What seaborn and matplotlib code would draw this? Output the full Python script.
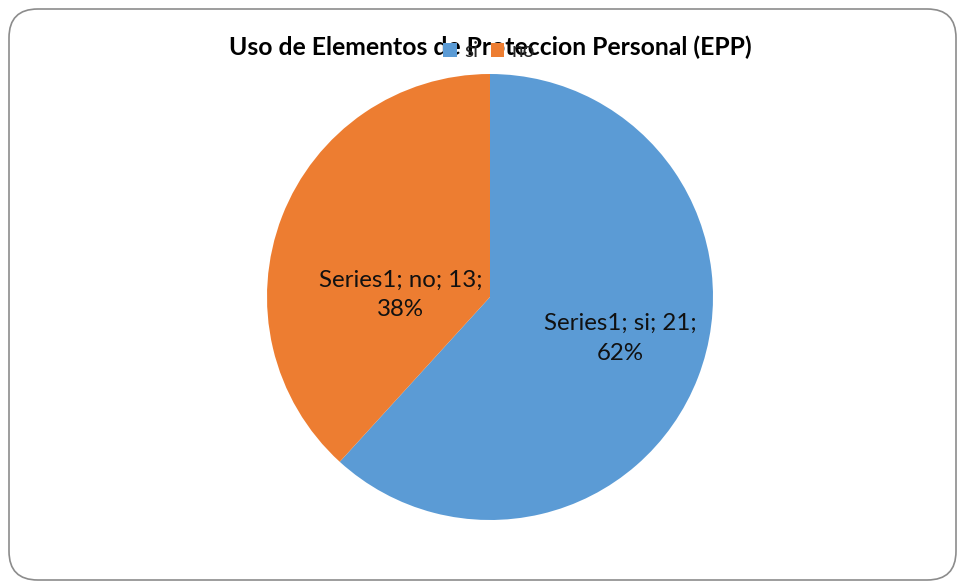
import matplotlib
matplotlib.use("Agg")
import matplotlib.pyplot as plt
import seaborn as sns
from matplotlib.patches import FancyBboxPatch, Patch

# datos del grafico
categorias = ["si", "no"]
valores = [21, 13]
serie = "Series1"
colores = ["#5B9BD5", "#ED7D31"]
titulo = "Uso de Elementos de Proteccion Personal (EPP)"

sns.set_theme(style="white")
plt.rcParams['font.family'] = ['Lato', 'DejaVu Sans']

W, H = 959, 582
fig = plt.figure(figsize=(W / 100, H / 100), dpi=100)

# marco redondeado tipo Excel
marco = FancyBboxPatch((9 / W, 2 / H), 947 / W, 571 / H,
                       boxstyle="round,pad=0,rounding_size=0.03",
                       transform=fig.transFigure, facecolor="none",
                       edgecolor="#8c8c8c", linewidth=1.2, mutation_aspect=W / H,
                       zorder=-1)
fig.patches.append(marco)

# pie: centro (490, 297), radio 223 px
cx, cy, r = 490, 297, 223
ax = fig.add_axes([(cx - r) / W, (H - cy - r) / H, 2 * r / W, 2 * r / H])
wedges, _ = ax.pie(valores, colors=colores, startangle=90, counterclock=False,
                   wedgeprops=dict(linewidth=0))
ax.set_xlim(-1, 1)
ax.set_ylim(-1, 1)
ax.set_aspect("auto")
ax.axis("off")

total = sum(valores)
pos_etiquetas = [(0.585, -0.185), (-0.40, 0.01)]
for cat, v, (x, y) in zip(categorias, valores, pos_etiquetas):
    ax.text(x, y, f"{serie}; {cat}; {v};\n{v / total:.0%}", ha="center", va="center",
            fontsize=17.3, color="#111111", linespacing=1.5)

fig.text(490 / W, 1 - 47 / H, titulo, ha="center", va="center",
         fontsize=17.8, fontweight="bold", color="black")

handles = [Patch(facecolor=c, edgecolor="none") for c in colores]
fig.legend(handles, categorias, loc="center", bbox_to_anchor=(489 / W, 1 - 51 / H),
           ncol=2, frameon=False, fontsize=15, handlelength=0.65, handleheight=0.65,
           handletextpad=0.35, columnspacing=0.6, labelcolor="#262626",
           borderpad=0, borderaxespad=0)

fig.savefig("out.png", dpi=100)
